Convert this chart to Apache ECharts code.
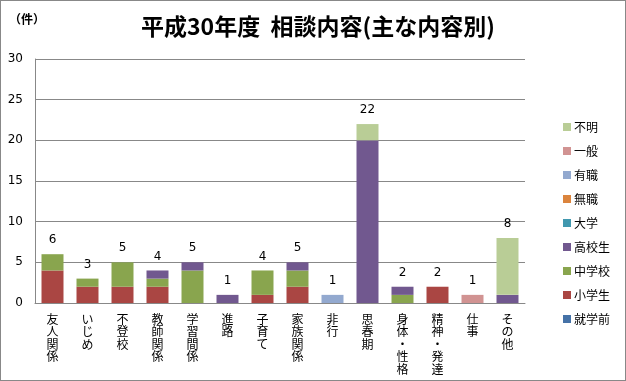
<!DOCTYPE html>
<html><head><meta charset="utf-8">
<script src="https://cdn.jsdelivr.net/npm/echarts@6/dist/echarts.min.js"></script>
<style>html,body{margin:0;padding:0;background:#fff}#c{width:626px;height:381px}#b{position:absolute;left:0;top:0;width:626px;height:381px;box-sizing:border-box;border:1px solid #888;pointer-events:none}</style>
</head><body><div id="c"></div><div id="b"></div>
<script>
const categories = ['友人関係','いじめ','不登校','教師関係','学習間係','進路','子育て','家族関係','非行','思春期','身体・性格','精神・発達','仕事','その他'];
const seriesNames = ['就学前','小学生','中学校','高校生','大学','無職','有職','一般','不明'];
const colors = ['#4572A7','#AA4643','#89A54E','#71588F','#4198AF','#DB843D','#93A9CF','#D19392','#B9CD96'];
const shugakumae = [0,0,0,0,0,0,0,0,0,0,0,0,0,0];
const shogakusei = [4,2,2,2,0,0,1,2,0,0,0,2,0,0];
const chugakko   = [2,1,3,1,4,0,3,2,0,0,1,0,0,0];
const kokosei    = [0,0,0,1,1,1,0,1,0,20,1,0,0,1];
const daigaku    = [0,0,0,0,0,0,0,0,0,0,0,0,0,0];
const mushoku    = [0,0,0,0,0,0,0,0,0,0,0,0,0,0];
const yushoku    = [0,0,0,0,0,0,0,0,1,0,0,0,0,0];
const ippan      = [0,0,0,0,0,0,0,0,0,0,0,0,1,0];
const fumei      = [0,0,0,0,0,0,0,0,0,2,0,0,0,7];
const yTicks = [0,5,10,15,20,25,30];

const values = [shugakumae,shogakusei,chugakko,kokosei,daigaku,mushoku,yushoku,ippan,fumei];
const totals = categories.map((_,i)=>values.reduce((s,a)=>s+a[i],0));
const FONT = '"Noto Sans CJK JP", sans-serif';

const series = seriesNames.map((n,k)=>({
  name:n, type:'bar', stack:'a', data:values[k], barWidth:22,
  itemStyle:{color:colors[k]}
}));
series.push({
  name:'合計', type:'bar', stack:'a', data:categories.map(()=>0), barWidth:22,
  itemStyle:{color:'transparent'},
  label:{show:true, position:'top', distance:8, color:'#000', fontSize:12, fontFamily:'Verdana, "DejaVu Sans", sans-serif',
    formatter:p=>String(totals[p.dataIndex])}
});

const chart = echarts.init(document.getElementById('c'));
chart.setOption({
  animation:false,
  color:colors,
  textStyle:{fontFamily:FONT},
  title:[
    {text:'平成30年度  相談内容(主な内容別)', left:313, top:10, textAlign:'center',
     textStyle:{fontSize:23, fontWeight:'bold', color:'#000', fontFamily:FONT}},
    {text:'（件）', left:4, top:8, textStyle:{fontSize:12, fontWeight:'bold', color:'#000', fontFamily:FONT}}
  ],
  legend:{
    data:seriesNames.slice().reverse(), orient:'vertical', left:558, top:116,
    itemWidth:8, itemHeight:8, itemGap:12, icon:'rect',
    textStyle:{fontSize:12, color:'#000', fontFamily:FONT, padding:[0,0,0,-2]}
  },
  grid:{left:35, right:101, top:59, bottom:78, outerBoundsMode:'none', containLabel:false},
  xAxis:{
    type:'category', data:categories,
    axisLine:{lineStyle:{color:'#888'}}, axisTick:{show:false},
    axisLabel:{interval:0, color:'#000', fontSize:12, lineHeight:12.5, margin:10, verticalAlign:'top',
      fontFamily:FONT, formatter:v=>v.split('').join('\n')}
  },
  yAxis:{
    type:'value', min:0, max:30, interval:5,
    axisLine:{show:true, lineStyle:{color:'#888'}}, axisTick:{show:false},
    splitLine:{lineStyle:{color:'#888'}},
    axisLabel:{color:'#000', fontSize:12, margin:12, fontFamily:'Verdana, "DejaVu Sans", sans-serif',
      formatter:v=>yTicks.includes(v)?String(v):''}
  },
  series:series
});
</script></body></html>
